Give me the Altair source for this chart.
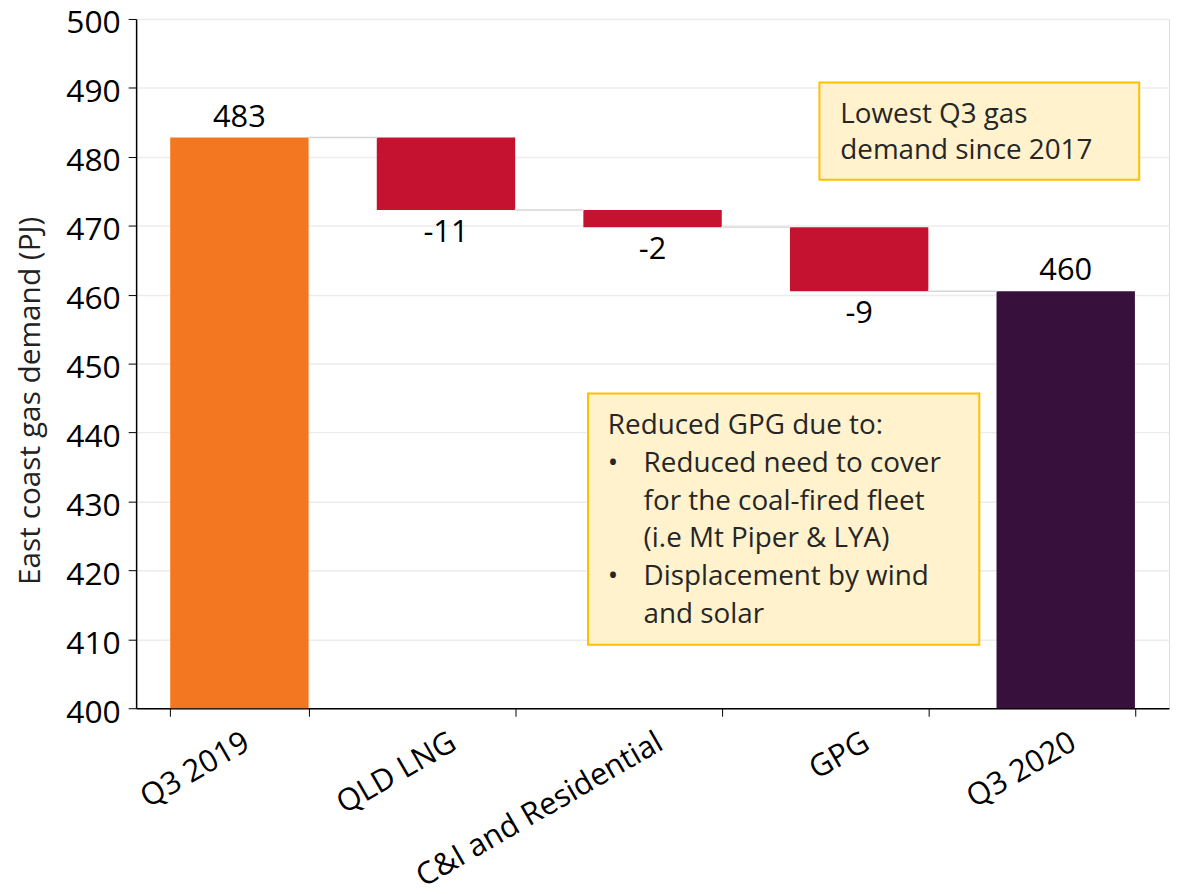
import altair as alt
import pandas as pd

# ---- data ----
categories = ["Q3 2019", "QLD LNG", "C&I and Residential", "GPG", "Q3 2020"]
kinds = ["total", "delta", "delta", "delta", "total"]
values = [482.8, -10.5, -2.5, -9.3, 460.5]
value_labels = ["483", "-11", "-2", "-9", "460"]
bar_colors = ["#F37721", "#C41230", "#C41230", "#C41230", "#37113B"]
y_ticks = list(range(400, 501, 10))
note1_lines = ["Lowest Q3 gas", "demand since 2017"]
note2_head = ["Reduced GPG due to:"]
note2_items = ["Reduced need to cover", "for the coal-fired fleet", "(i.e Mt Piper & LYA)",
               "Displacement by wind", "and solar"]

FONT = "Open Sans"
YTITLE = "East coast gas demand (PJ)"

rows = []
running = 0.0
for c, k, v, l, col in zip(categories, kinds, values, value_labels, bar_colors):
    if k == "total":
        start, end = 400.0, v
        running = v
    else:
        start, end = running, running + v
        running = end
    rows.append(dict(cat=c, y=start, y2=end, label=l, color=col, kind=k,
                     top=max(start, end), bottom=min(start, end)))
df = pd.DataFrame(rows)

conn = []
for i in range(len(rows) - 1):
    conn.append(dict(cat=rows[i]["cat"], cat2=rows[i + 1]["cat"], level=rows[i]["y2"]))
conn_df = pd.DataFrame(conn)

xscale = alt.Scale(domain=categories, paddingInner=0.33, paddingOuter=0.165)
yscale = alt.Scale(domain=[400, 500], nice=False, zero=False)

x_axis = alt.Axis(labelAngle=-30, labelAlign="right", labelBaseline="top",
                  labelFontSize=31, labelFont=FONT, labelColor="#000000", labelLimit=0,
                  labelPadding=11, tickBand="extent", tickSize=8,
                  tickColor="#000000", domainColor="#000000", domainWidth=1.5,
                  grid=False, labelOverlap=False)
y_axis = alt.Axis(values=y_ticks, labelFontSize=32, labelFont=FONT,
                  labelColor="#000000", labelPadding=8, labelOffset=4, tickSize=8,
                  tickColor="#000000", domainColor="#000000", domainWidth=1.5,
                  gridColor="#ececec", gridWidth=1.5,
                  titleFontSize=30, titleFont=FONT, titleFontWeight="normal",
                  titleColor="#222222", titlePadding=20, titleY=384)


def X(field):
    return alt.X(field, scale=xscale, sort=categories, title=None, axis=x_axis)


def Y(field):
    return alt.Y(field, scale=yscale, title=YTITLE, axis=y_axis)


bars = alt.Chart(df).mark_bar().encode(
    x=X("cat:N"), y=Y("y:Q"), y2="y2:Q",
    color=alt.Color("color:N", scale=None),
)

connectors = alt.Chart(conn_df).mark_rule(color="#d6d6d6", strokeWidth=1.5,
                                           xOffset=69, x2Offset=-69).encode(
    x=X("cat:N"), x2="cat2:N", y=Y("level:Q"),
)

tot_labels = alt.Chart(df).transform_filter(alt.datum.kind == "total").mark_text(
    font=FONT, fontSize=31, baseline="bottom", dy=-4, color="#000000").encode(
    x=X("cat:N"), y=Y("top:Q"), text="label:N",
)
delta_labels = alt.Chart(df).transform_filter(alt.datum.kind == "delta").mark_text(
    font=FONT, fontSize=31, baseline="top", dy=8, color="#000000").encode(
    x=X("cat:N"), y=Y("bottom:Q"), text="label:N",
)

one = pd.DataFrame({"a": [0]})
box_style = dict(fill="#FFF2CC", stroke="#FFC000", strokeWidth=2)
box1 = alt.Chart(one).mark_rect(**box_style).encode(
    x=alt.value(688), x2=alt.value(1010), y=alt.value(64), y2=alt.value(162))
box2 = alt.Chart(one).mark_rect(**box_style).encode(
    x=alt.value(455), x2=alt.value(849), y=alt.value(377), y2=alt.value(630))

txt = dict(font=FONT, fontSize=28, align="left", baseline="alphabetic", color="#262626")
note1 = alt.Chart(one).mark_text(text=note1_lines, lineHeight=36, **txt).encode(
    x=alt.value(709), y=alt.value(105))
note2_h = alt.Chart(one).mark_text(text=note2_head, **txt).encode(
    x=alt.value(475), y=alt.value(418))
note2_i = alt.Chart(one).mark_text(text=note2_items[:3], lineHeight=38, **txt).encode(
    x=alt.value(511), y=alt.value(456))
note2_j = alt.Chart(one).mark_text(text=note2_items[3:], lineHeight=38, **txt).encode(
    x=alt.value(511), y=alt.value(570))
bul1 = alt.Chart(one).mark_text(text="•", **txt).encode(x=alt.value(475), y=alt.value(456))
bul2 = alt.Chart(one).mark_text(text="•", **txt).encode(x=alt.value(475), y=alt.value(570))

chart = alt.layer(bars, connectors, tot_labels, delta_labels, box1, box2,
                  note1, note2_h, note2_i, note2_j, bul1, bul2).properties(
    width=1040, height=694,
    autosize=alt.AutoSizeParams(type="none"),
    padding={"left": 129, "top": 8, "right": 1, "bottom": 184},
).configure_view(stroke=None).configure(background="#ffffff")

chart.save("out.html", embed_options={"renderer": "svg", "actions": False})
